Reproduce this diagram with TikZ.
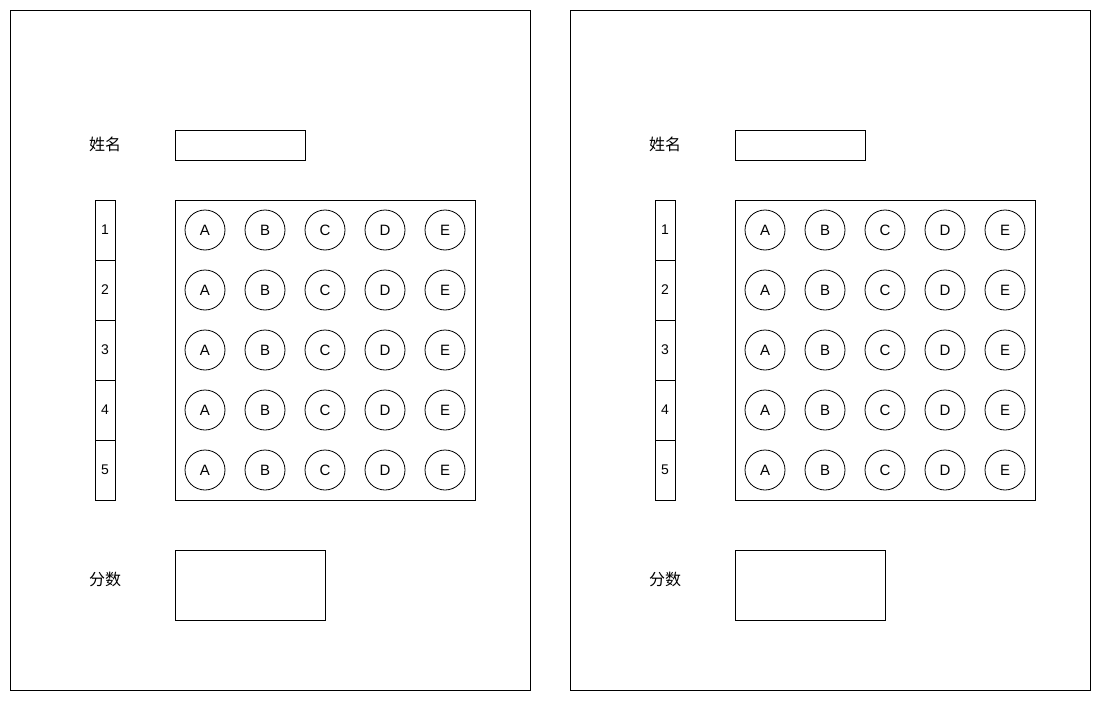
\documentclass[tikz,border=0pt]{standalone}
\usepackage{fontspec}
\setmainfont{Liberation Sans}
\newfontfamily\cjk{Noto Sans CJK SC}
\begin{document}
\begin{tikzpicture}[x=1pt,y=-1pt,
  line/.style={draw=black,line width=0.8pt},
  panel/.style={line,rectangle,inner sep=0pt},
  bubble/.style={line,circle,minimum size=40pt,inner sep=0pt,font=\fontsize{15}{15}\selectfont},
  numbox/.style={line,rectangle,minimum width=20pt,minimum height=60pt,inner sep=0pt,font=\fontsize{14}{14}\selectfont},
  lbl/.style={font=\cjk\fontsize{16}{16}\selectfont,inner sep=0pt}]
\useasboundingbox (0,0) rectangle (1101,701);
\foreach \side/\ox in {L/0,R/560}{
  \draw[line] (10+\ox,10) rectangle (530+\ox,690);
  \node[lbl] (\side-namelbl) at (105+\ox,144) {姓名};
  \node[panel,minimum width=130pt,minimum height=30pt] (\side-name) at (240+\ox,145) {};
  \node[panel,minimum width=300pt,minimum height=300pt] (\side-grid) at (325+\ox,350) {};
  \foreach \r in {1,...,5}{
    \node[numbox] (\side-num-\r) at (105+\ox,170+60*\r) {\r};
    \foreach \c/\t in {1/A,2/B,3/C,4/D,5/E}{
      \node[bubble] (\side-b-\r-\c) at (145+60*\c+\ox,170+60*\r) {\t};
    }
  }
  \node[lbl] (\side-scorelbl) at (105+\ox,579) {分数};
  \node[panel,minimum width=150pt,minimum height=70pt] (\side-score) at (250+\ox,585) {};
}
\end{tikzpicture}
\end{document}
